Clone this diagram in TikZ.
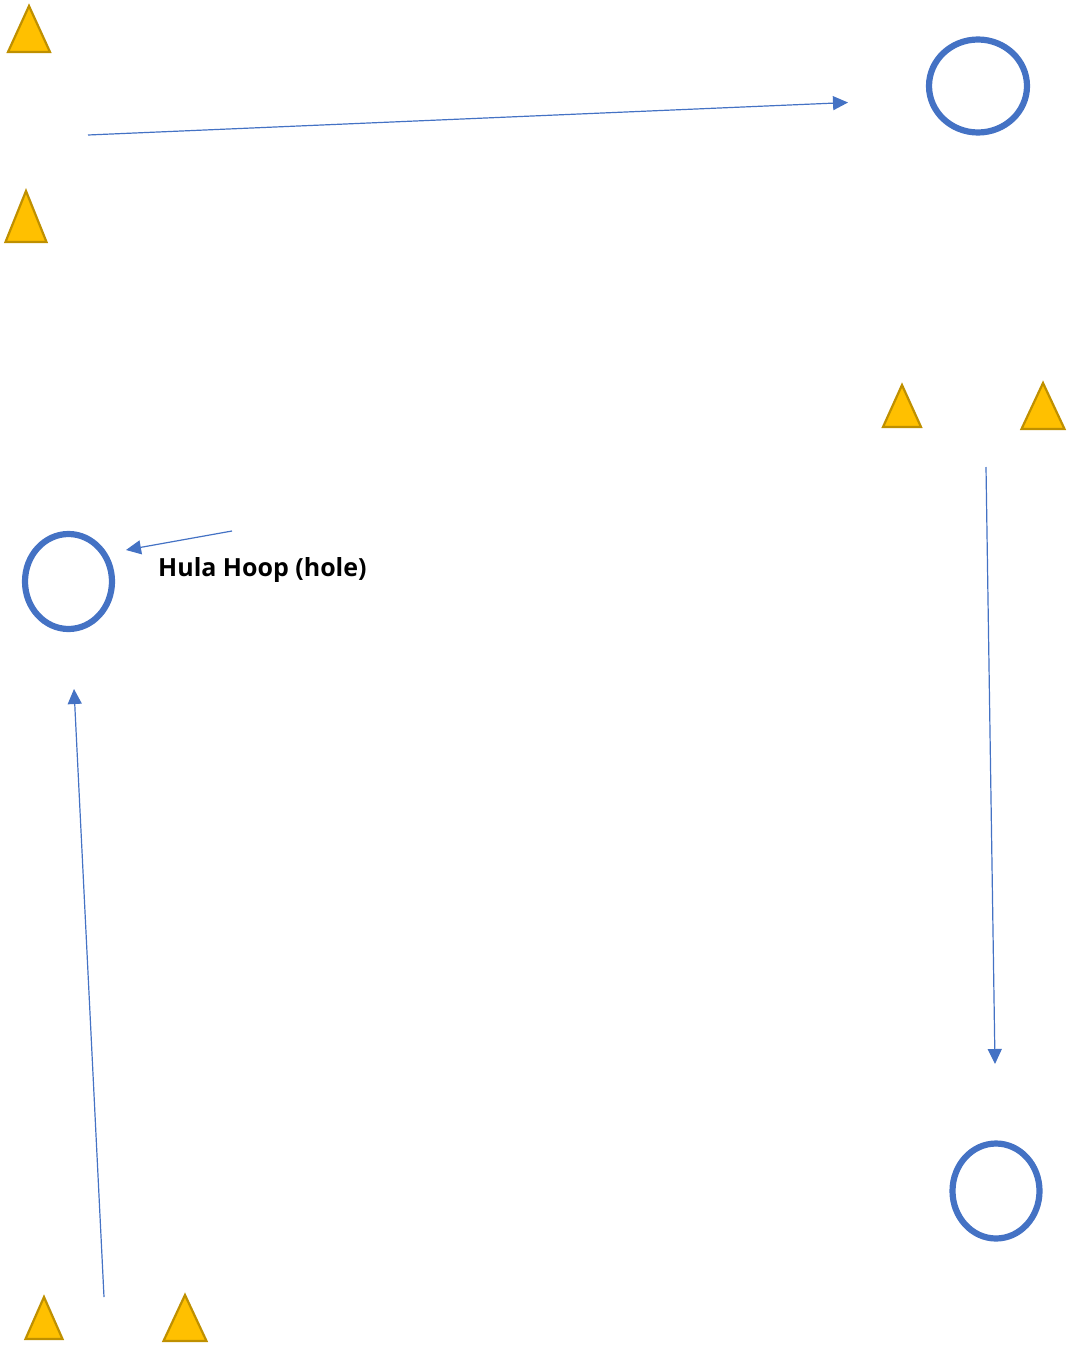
\documentclass[tikz,border=0pt]{standalone}
\usepackage{fontspec}
\setmainfont{Open Sans}
\usetikzlibrary{arrows.meta}
\definecolor{cone}{HTML}{FFC000}
\definecolor{coneedge}{HTML}{BF9000}
\definecolor{hoop}{HTML}{4472C4}
\tikzset{
  conestyle/.style={fill=cone,draw=coneedge,line width=2.2pt,line join=miter},
  hoopstyle/.style={draw=hoop,line width=6.2pt},
  runarrow/.style={draw=hoop,line width=1.2pt,-{Triangle[length=15pt,width=14pt]}}
}
\newcommand{\cone}[4]{%
  \filldraw[conestyle] (#1,#2) -- (#1-#4,#3) -- (#1+#4,#3) -- cycle;}
\begin{document}
\begin{tikzpicture}[x=1pt,y=-1pt]
\useasboundingbox (0,0) rectangle (1067,1346);
% cones
\cone{29}{6}{52}{21}
\cone{26}{191}{242}{20.5}
\cone{902}{385}{427}{19}
\cone{1043}{383}{429}{21.5}
\cone{44}{1297}{1339}{18.5}
\cone{185}{1295}{1341}{21.5}
% hoops
\draw[hoopstyle] (978,86) ellipse [x radius=49, y radius=46.5];
\draw[hoopstyle] (68.5,581.5) ellipse [x radius=43.5, y radius=47.5];
\draw[hoopstyle] (996,1191) ellipse [x radius=43.5, y radius=47.5];
% arrows
\coordinate (a1s) at (88,135); \coordinate (a1e) at (848,102.5);
\coordinate (a2s) at (986,467); \coordinate (a2e) at (995,1064);
\coordinate (a3s) at (104,1297); \coordinate (a3e) at (74,689);
\coordinate (a4s) at (232,531); \coordinate (a4e) at (126,550);
\draw[runarrow] (a1s) -- (a1e);
\draw[runarrow] (a2s) -- (a2e);
\draw[runarrow] (a3s) -- (a3e);
\draw[runarrow] (a4s) -- (a4e);
% label
\node[anchor=base west,inner sep=0pt,font=\fontsize{25}{30}\selectfont\bfseries] (lbl) at (158,576) {Hula Hoop (hole)};
\end{tikzpicture}
\end{document}
